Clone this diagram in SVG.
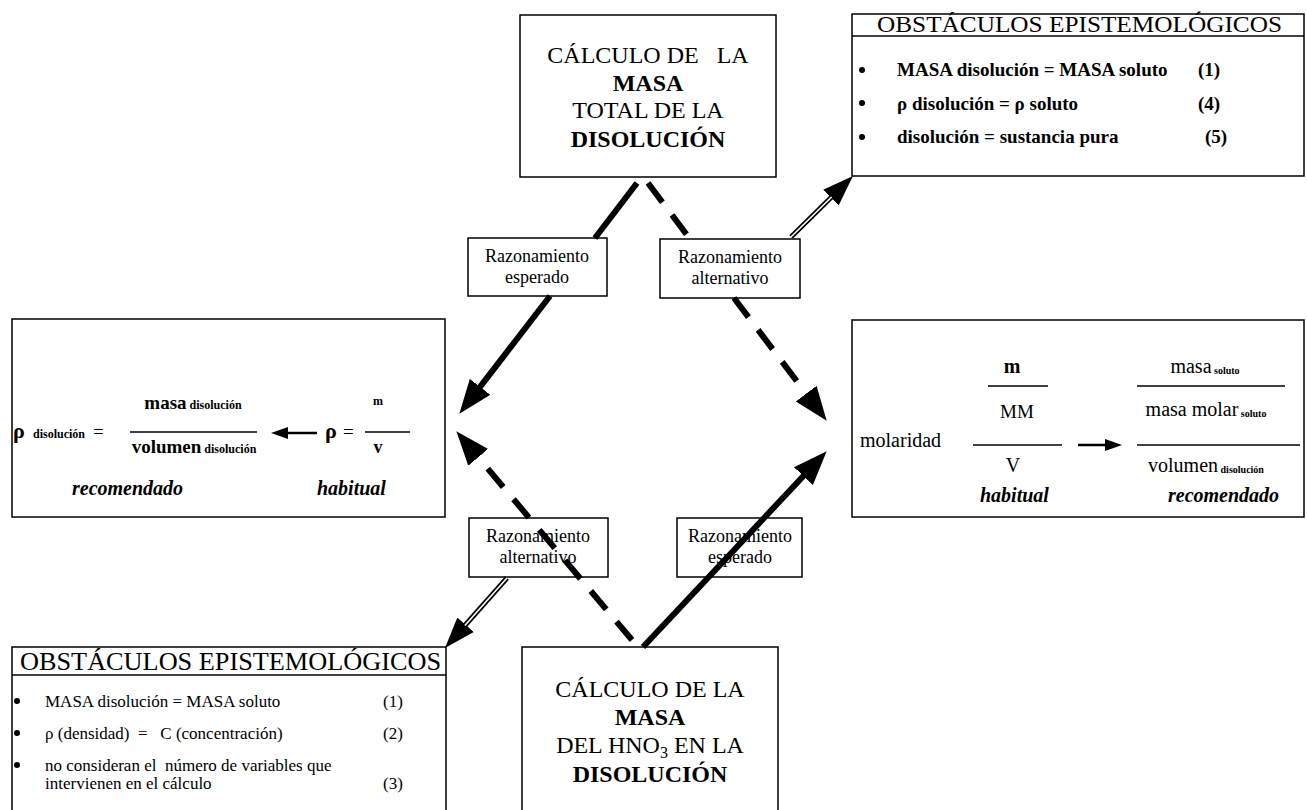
<svg xmlns="http://www.w3.org/2000/svg" width="1307" height="810" viewBox="0 0 1307 810">
<style>
.box{fill:#fff;stroke:#000;stroke-width:1.5}
.t{font-family:"Liberation Serif","Times New Roman","DejaVu Serif",serif;fill:#000}
.c{text-anchor:middle}
.b{font-weight:bold}
.i{font-style:italic}
.pre{white-space:pre}
.ln{stroke:#000;stroke-width:1.5;fill:none}
.solid{stroke:#000;stroke-width:6;fill:none}
.dash{stroke:#000;stroke-width:6;fill:none;stroke-dasharray:24 16}
.dblo{stroke:#000;stroke-width:5;fill:none}
.dbli{stroke:#fff;stroke-width:1.6;fill:none}
.thin{stroke:#000;stroke-width:2.5;fill:none}
</style>
<defs>
<marker id="big" markerUnits="userSpaceOnUse" markerWidth="36" markerHeight="28" viewBox="0 0 36 28" refX="1" refY="14" orient="auto"><path d="M0,1 L34,14 L0,27 z" fill="#000"/></marker>
<marker id="mid" markerUnits="userSpaceOnUse" markerWidth="32" markerHeight="24" viewBox="0 0 32 24" refX="1" refY="12" orient="auto"><path d="M0,1 L31,12 L0,23 z" fill="#000"/></marker>
<marker id="small" markerUnits="userSpaceOnUse" markerWidth="18" markerHeight="14" viewBox="0 0 18 14" refX="1" refY="7" orient="auto"><path d="M0,1 L17,7 L0,13 z" fill="#000"/></marker>
</defs>
<rect width="1307" height="810" fill="#fff"/>

<g id="node-top">
<rect class="box" x="520" y="15" width="256" height="162"/>
<text class="t c pre" x="648" y="63" font-size="24">CÁLCULO DE   LA</text>
<text class="t c b" x="648" y="91" font-size="24">MASA</text>
<text class="t c" x="648" y="118" font-size="24">TOTAL DE LA</text>
<text class="t c b" x="648" y="147" font-size="24">DISOLUCIÓN</text>
</g>

<g id="node-obstacles-top">
<rect class="box" x="852" y="14" width="452" height="162"/>
<line class="ln" x1="852" y1="36" x2="1304" y2="36"/>
<text class="t" x="877" y="32" font-size="24" textLength="405" lengthAdjust="spacingAndGlyphs">OBSTÁCULOS EPISTEMOLÓGICOS</text>
<circle cx="862" cy="70" r="3"/>
<circle cx="862" cy="103" r="3"/>
<circle cx="862" cy="137" r="3"/>
<text class="t b" x="897" y="76" font-size="19">MASA disolución = MASA soluto</text>
<text class="t b" x="1198" y="76" font-size="19">(1)</text>
<text class="t b" x="897" y="110" font-size="19">ρ disolución = ρ soluto</text>
<text class="t b" x="1198" y="110" font-size="19">(4)</text>
<text class="t b" x="897" y="143" font-size="19">disolución = sustancia pura</text>
<text class="t b" x="1205" y="143" font-size="19">(5)</text>
</g>

<g id="node-density">
<rect class="box" x="12" y="319" width="433" height="198"/>
<text class="t b" x="13" y="438" font-size="22">ρ</text>
<text class="t b" x="33" y="438" font-size="12">disolución</text>
<text class="t" x="93" y="438" font-size="19">=</text>
<text class="t c" x="193" y="409"><tspan class="b" font-size="19">masa</tspan><tspan class="b" font-size="12"> disolución</tspan></text>
<line class="ln" x1="130" y1="432" x2="257" y2="432"/>
<text class="t c" x="194" y="453"><tspan class="b" font-size="19">volumen</tspan><tspan class="b" font-size="12"> disolución</tspan></text>
<line class="thin" x1="317" y1="433" x2="287" y2="433" marker-end="url(#small)"/>
<text class="t b" x="325" y="438" font-size="22">ρ</text>
<text class="t" x="343" y="438" font-size="19">=</text>
<text class="t c b" x="378" y="405" font-size="12">m</text>
<line class="ln" x1="365" y1="432" x2="410" y2="432"/>
<text class="t c b" x="378" y="453" font-size="18">v</text>
<text class="t b i" x="72" y="495" font-size="20">recomendado</text>
<text class="t b i" x="317" y="495" font-size="20">habitual</text>
</g>

<g id="node-molarity">
<rect class="box" x="852" y="320" width="452" height="197"/>
<text class="t" x="860" y="447" font-size="20">molaridad</text>
<text class="t c b" x="1012" y="373" font-size="20">m</text>
<line class="ln" x1="988" y1="386" x2="1048" y2="386"/>
<text class="t c" x="1017" y="418" font-size="19">MM</text>
<line class="ln" x1="973" y1="445" x2="1062" y2="445"/>
<text class="t c" x="1013" y="472" font-size="20">V</text>
<line class="thin" x1="1078" y1="445" x2="1106" y2="445" marker-end="url(#small)"/>
<text class="t c" x="1205" y="373"><tspan font-size="20">masa</tspan><tspan class="b" font-size="10" dy="1"> soluto</tspan></text>
<line class="ln" x1="1137" y1="386" x2="1285" y2="386"/>
<text class="t c" x="1206" y="416"><tspan font-size="20">masa molar</tspan><tspan class="b" font-size="10" dy="1"> soluto</tspan></text>
<line class="ln" x1="1137" y1="445" x2="1300" y2="445"/>
<text class="t c" x="1206" y="472"><tspan font-size="20">volumen</tspan><tspan class="b" font-size="10" dy="1"> disolución</tspan></text>
<text class="t b i" x="980" y="502" font-size="20">habitual</text>
<text class="t b i" x="1168" y="502" font-size="20">recomendado</text>
</g>

<g id="node-obstacles-bottom">
<rect class="box" x="12" y="647" width="434" height="175"/>
<line class="ln" x1="12" y1="675" x2="446" y2="675"/>
<text class="t" x="20" y="670" font-size="25" textLength="421" lengthAdjust="spacingAndGlyphs">OBSTÁCULOS EPISTEMOLÓGICOS</text>
<circle cx="17" cy="701" r="3"/>
<circle cx="17" cy="733" r="3"/>
<circle cx="17" cy="765" r="3"/>
<text class="t" x="45" y="707" font-size="17">MASA disolución = MASA soluto</text>
<text class="t" x="383" y="707" font-size="17">(1)</text>
<text class="t pre" x="45" y="739" font-size="17">ρ (densidad)  =   C (concentración)</text>
<text class="t" x="383" y="739" font-size="17">(2)</text>
<text class="t pre" x="45" y="771" font-size="17">no consideran el  número de variables que</text>
<text class="t" x="45" y="789" font-size="17">intervienen en el cálculo</text>
<text class="t" x="383" y="789" font-size="17">(3)</text>
</g>

<g id="node-bottom">
<rect class="box" x="522" y="647" width="256" height="175"/>
<text class="t c" x="650" y="697" font-size="24">CÁLCULO DE LA</text>
<text class="t c b" x="650" y="725" font-size="24">MASA</text>
<text class="t c" x="650" y="753" font-size="24">DEL HNO<tspan font-size="16" dy="5">3</tspan><tspan dy="-5"> EN LA</tspan></text>
<text class="t c b" x="650" y="782" font-size="24">DISOLUCIÓN</text>
</g>

<g id="label-top-esperado">
<rect class="box" x="468" y="238" width="139" height="58"/>
<text class="t c" x="537" y="262" font-size="18">Razonamiento</text>
<text class="t c" x="537" y="283" font-size="18">esperado</text>
</g>
<g id="label-top-alternativo">
<rect class="box" x="660" y="239" width="140" height="59"/>
<text class="t c" x="730" y="263" font-size="18">Razonamiento</text>
<text class="t c" x="730" y="284" font-size="18">alternativo</text>
</g>
<g id="label-bottom-alternativo">
<rect class="box" x="469" y="518" width="139" height="59"/>
<text class="t c" x="538" y="542" font-size="18">Razonamiento</text>
<text class="t c" x="538" y="563" font-size="18">alternativo</text>
</g>
<g id="label-bottom-esperado">
<rect class="box" x="677" y="518" width="125" height="59"/>
<text class="t c" x="740" y="542" font-size="18">Razonamiento</text>
<text class="t c" x="740" y="563" font-size="18">esperado</text>
</g>

<g id="connectors">
<line class="solid" x1="637" y1="183" x2="595" y2="238"/>
<line class="solid" x1="550" y1="296" x2="479.5" y2="387.6" marker-end="url(#big)"/>
<line class="dash" x1="648" y1="183" x2="690" y2="239"/>
<line class="dash" x1="734" y1="298" x2="806.8" y2="394.4" marker-end="url(#big)"/>
<line class="dash" x1="632" y1="640" x2="477.6" y2="456.5" marker-end="url(#big)"/>
<line class="solid" x1="643" y1="647" x2="804.1" y2="475.3" marker-end="url(#big)"/>
<line class="dblo" x1="791" y1="237" x2="831.6" y2="197" marker-end="url(#mid)"/>
<line class="dbli" x1="791" y1="237" x2="831.6" y2="197"/>
<line class="dblo" x1="507" y1="578" x2="464.9" y2="625.5" marker-end="url(#mid)"/>
<line class="dbli" x1="507" y1="578" x2="464.9" y2="625.5"/>
</g>
</svg>
